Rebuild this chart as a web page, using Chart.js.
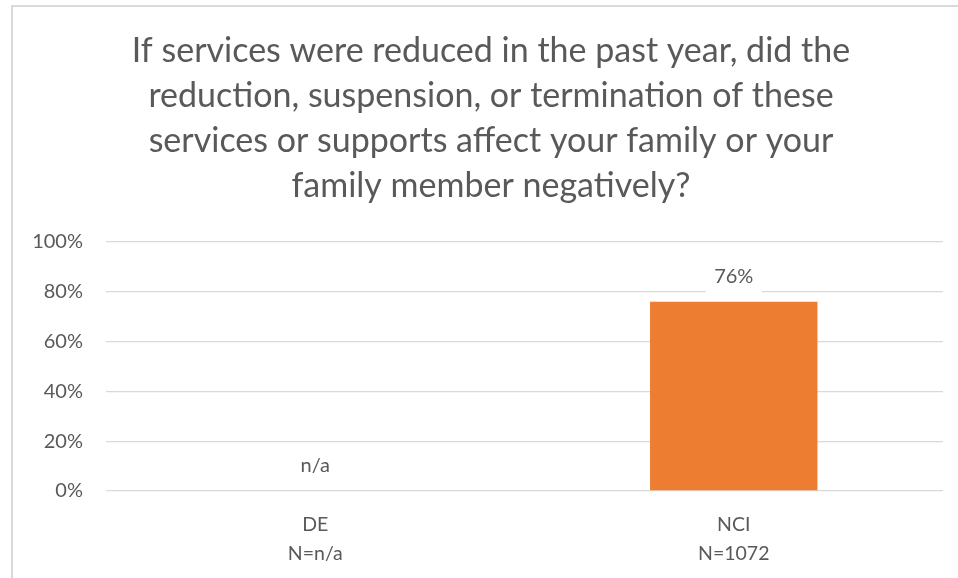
<!DOCTYPE html>
<html>
<head>
<meta charset="utf-8">
<script src="https://cdn.jsdelivr.net/npm/chart.js@4/dist/chart.umd.min.js"></script>
<style>
    html, body { margin: 0; padding: 0; background: #ffffff; }
    #wrap { position: relative; width: 958px; height: 578px; overflow: hidden; }
    #frame {
        position: absolute; left: 11px; top: 5px; width: 960px; height: 600px;
        border-left: 2px solid #d9d9d9; border-top: 2px solid #d9d9d9;
    }
    #chart { position: absolute; left: 0; top: 0; }
</style>
</head>
<body>
<div id="wrap">
    <div id="frame"></div>
    <canvas id="chart" width="958" height="578"></canvas>
</div>
<script>
    'use strict';

    const titleLines = [
        'If services were reduced in the past year, did the',
        'reduction, suspension, or termination of these',
        'services or supports affect your family or your',
        'family member negatively?'
    ];
    const categories = [['DE', 'N=n/a'], ['NCI', 'N=1072']];
    const values = [null, 0.76];
    const yTicks = [0, 0.2, 0.4, 0.6, 0.8, 1.0];

    const textColor = '#595959';
    const gridColor = '#d9d9d9';
    const barColor = '#ED7D31';
    const fontFamily = 'Lato, "Open Sans", sans-serif';

    // the title sits centred on the whole frame, not on the plot box,
    // so it is drawn here instead of with the title plugin
    const frameTitle = {
        id: 'frameTitle',
        afterDraw(chart) {
            const ctx = chart.ctx;
            const centerX = 491;
            const firstBaseline = 62;
            const lineHeight = 45;
            ctx.save();
            ctx.font = '34px ' + fontFamily;
            ctx.fillStyle = textColor;
            ctx.textAlign = 'center';
            ctx.textBaseline = 'alphabetic';
            titleLines.forEach((line, i) => {
                ctx.fillText(line, centerX, firstBaseline + i * lineHeight);
            });
            ctx.restore();
        }
    };

    // value labels drawn above each bar, with a white box behind them
    const valueLabels = {
        id: 'valueLabels',
        afterDatasetsDraw(chart) {
            const ctx = chart.ctx;
            const yScale = chart.scales.y;
            const xScale = chart.scales.x;
            ctx.save();
            ctx.font = '20px ' + fontFamily;
            ctx.textAlign = 'center';
            ctx.textBaseline = 'middle';
            values.forEach((v, i) => {
                const text = v === null ? 'n/a' : Math.round(v * 100) + '%';
                const x = xScale.getPixelForValue(i);
                const y = yScale.getPixelForValue(v === null ? 0 : v) - 25;
                const w = ctx.measureText(text).width + 17;
                ctx.fillStyle = '#ffffff';
                ctx.fillRect(x - w / 2, y - 15, w, 33);
                ctx.fillStyle = textColor;
                ctx.fillText(text, x, y);
            });
            ctx.restore();
        }
    };

    const canvas = document.getElementById('chart');
    new Chart(canvas.getContext('2d'), {
        type: 'bar',
        data: {
            labels: categories,
            datasets: [{
                data: values,
                backgroundColor: barColor,
                borderWidth: 0,
                barPercentage: 0.4,
                categoryPercentage: 1.0
            }]
        },
        options: {
            responsive: false,
            animation: false,
            devicePixelRatio: 1,
            layout: {
                padding: { left: 12, right: 15, top: 242, bottom: 0 }
            },
            plugins: {
                legend: { display: false },
                tooltip: { enabled: false },
                title: { display: false }
            },
            scales: {
                x: {
                    grid: { display: false },
                    border: { display: false },
                    ticks: {
                        color: textColor,
                        padding: 11,
                        font: { family: fontFamily, size: 19.5, lineHeight: 1.5 }
                    },
                    afterFit(scale) { scale.height = 87; }
                },
                y: {
                    min: 0,
                    max: 1,
                    afterBuildTicks(scale) {
                        scale.ticks = yTicks.map(v => ({ value: v }));
                    },
                    grid: { color: gridColor, lineWidth: 1.3, drawTicks: false },
                    border: { display: false },
                    ticks: {
                        color: textColor,
                        padding: 23,
                        font: { family: fontFamily, size: 20 },
                        callback: v => Math.round(v * 100) + '%'
                    },
                    afterFit(scale) { scale.width = 94; }
                }
            }
        },
        plugins: [valueLabels, frameTitle]
    });
</script>
</body>
</html>
